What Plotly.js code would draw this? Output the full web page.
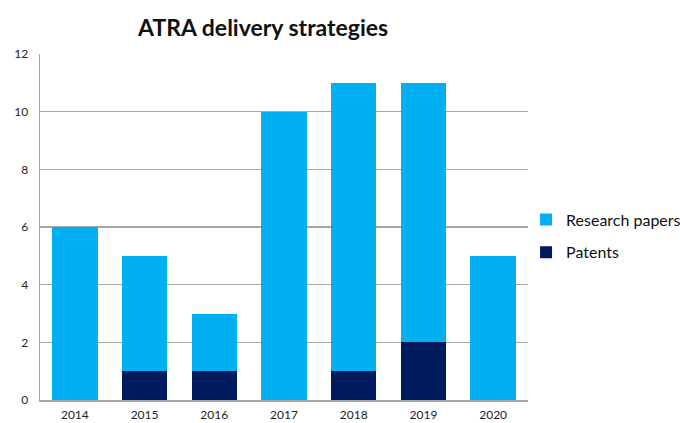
<!DOCTYPE html>
<html>
<head>
<meta charset="utf-8">
<script src="https://cdn.plot.ly/plotly-3.0.1.min.js"></script>
<style>html,body{margin:0;padding:0;background:#fff;}#chart{width:680px;height:423px;}</style>
</head>
<body>
<div id="chart"></div>
<script>
const years = ['2014', '2015', '2016', '2017', '2018', '2019', '2020'];
const patents = [0, 1, 1, 0, 1, 2, 0];
const researchPapers = [6, 4, 2, 10, 10, 9, 5];
const yTicks = [0, 2, 4, 6, 8, 10, 12];

const font = 'Lato, "Open Sans", sans-serif';

const data = [
  {type: 'bar', name: 'Patents', x: years, y: patents, legendgroup: 'p', legendrank: 2,
   marker: {color: '#001A5E', line: {width: 0}}, hoverinfo: 'x+y+name'},
  {type: 'bar', name: 'Research papers', x: years, y: researchPapers, legendgroup: 'r', legendrank: 1,
   marker: {color: '#00B0F0', line: {width: 0}}, hoverinfo: 'x+y+name'}
];

const layout = {
  width: 680, height: 423,
  margin: {l: 40, r: 152, t: 54, b: 23, autoexpand: false},
  paper_bgcolor: '#fff', plot_bgcolor: '#fff',
  barmode: 'stack', bargap: 0.35,
  font: {family: font, color: '#222', size: 12},
  title: {text: '<b>ATRA delivery strategies</b>', font: {family: font, size: 23, color: '#111'},
          x: 0.387, xanchor: 'center', y: 0.935, yanchor: 'middle'},
  xaxis: {type: 'category', showgrid: false, showline: true, linecolor: '#A6A6A6', linewidth: 1.5,
          ticks: 'outside', ticklen: 3, tickcolor: 'rgba(0,0,0,0)',
          tickfont: {size: 12, color: '#222'}, fixedrange: true},
  yaxis: {range: [0, 12], tickvals: yTicks, showgrid: true, gridcolor: '#A6A6A6', gridwidth: 1.3,
          showline: true, linecolor: '#A6A6A6', linewidth: 1.5, zeroline: false,
          ticks: 'outside', ticklen: 8, tickcolor: 'rgba(0,0,0,0)',
          tickfont: {size: 12, color: '#222'}, fixedrange: true},
  legend: {x: 0.996, xanchor: 'left', y: 0.474, yanchor: 'middle', traceorder: 'grouped',
           tracegroupgap: 9,
           font: {family: font, size: 16, color: '#111'}, bgcolor: 'rgba(0,0,0,0)', itemwidth: 30},
  showlegend: true
};

Plotly.newPlot('chart', data, layout, {displayModeBar: false, staticPlot: true});
</script>
</body>
</html>
